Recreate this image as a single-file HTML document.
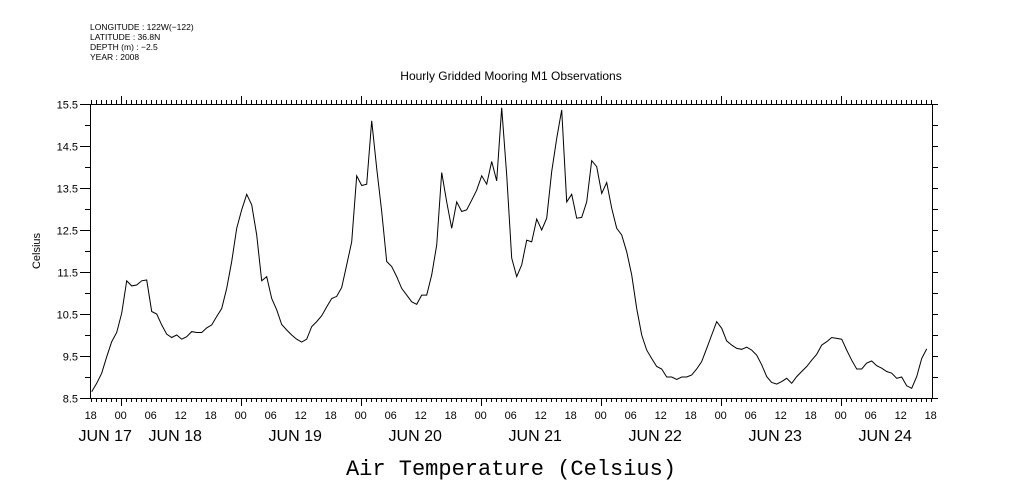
<!DOCTYPE html>
<html><head><meta charset="utf-8"><style>
html,body{margin:0;padding:0;background:#fff;}
svg{display:block;font-family:"Liberation Sans",sans-serif;}
</style></head><body>
<svg id="chart" width="1009" height="504" viewBox="0 0 1009 504">
<g font-size="8.5" fill="#000">
<text x="90" y="30">LONGITUDE : 122W(−122)</text>
<text x="90" y="40">LATITUDE : 36.8N</text>
<text x="90" y="50">DEPTH (m) : −2.5</text>
<text x="90" y="60">YEAR : 2008</text>
</g>
<text x="511" y="80" font-size="12" text-anchor="middle">Hourly Gridded Mooring M1 Observations</text>
<text x="511" y="475" font-size="22" text-anchor="middle" font-family="Liberation Mono, monospace">Air Temperature (Celsius)</text>
<text x="40" y="251" font-size="11" text-anchor="middle" transform="rotate(-90 40 251)">Celsius</text>
<g id="axes" stroke="#000" stroke-width="1" fill="none"></g>
<g id="labels" fill="#000"></g>
<path id="line" fill="none" stroke="#000" stroke-width="1"/>
</svg>
<script>
const temps = [8.65,8.85,9.09,9.48,9.84,10.06,10.52,11.29,11.17,11.19,11.29,11.31,10.56,10.5,10.24,10.02,9.94,10.0,9.9,9.96,10.08,10.06,10.06,10.17,10.24,10.44,10.63,11.11,11.75,12.54,12.98,13.35,13.1,12.38,11.29,11.39,10.87,10.6,10.25,10.12,10.0,9.9,9.83,9.9,10.2,10.32,10.46,10.67,10.87,10.92,11.13,11.67,12.22,13.79,13.56,13.59,15.1,13.97,12.94,
11.75,11.63,11.39,11.11,10.95,10.79,10.73,10.95,10.95,11.43,12.14,13.87,13.17,12.54,13.17,12.94,12.98,13.21,13.45,13.79,13.59,14.13,13.67,15.41,13.81,11.83,11.39,11.67,12.26,12.22,12.76,12.5,12.78,13.89,14.68,15.36,13.17,13.35,12.78,12.8,13.17,14.15,14.01,13.37,13.63,13.02,12.54,12.38,11.98,11.43,10.63,10.0,9.64,9.44,9.25,
9.19,9.0,9.0,8.94,9.0,9.0,9.05,9.19,9.37,9.68,10.0,10.32,10.16,9.86,9.76,9.68,9.66,9.71,9.64,9.52,9.29,9.01,8.87,8.83,8.89,8.97,8.85,9.01,9.13,9.25,9.4,9.54,9.76,9.84,9.94,9.92,9.9,9.64,9.4,9.19,9.19,9.33,9.38,9.27,9.21,9.13,9.09,8.97,9.0,8.79,8.73,9.01,9.44,9.67];
const yTicks = ["8.5","9.5","10.5","11.5","12.5","13.5","14.5","15.5"];
const hourLabels = ["18","00","06","12","18","00","06","12","18","00","06","12","18","00","06","12","18","00","06","12","18","00","06","12","18","00","06","12","18"];
const dayLabels = ["JUN 17","JUN 18","JUN 19","JUN 20","JUN 21","JUN 22","JUN 23","JUN 24"];
const dayLabelHours = [2.9,16.9,40.9,64.9,88.9,112.9,136.9,158.9];

const X0=90.7, PXH=5, YT=104, YB=398, VMIN=8.5, VMAX=15.5;
const L=90, R=933;
const xs = h => X0 + h*PXH;
const ys = v => YB - (v-VMIN)/(VMAX-VMIN)*(YB-YT);
const NS="http://www.w3.org/2000/svg";
const axes=document.getElementById('axes'), labels=document.getElementById('labels');
function ln(x1,y1,x2,y2,name){const e=document.createElementNS(NS,'line');
e.setAttribute('x1',x1);e.setAttribute('y1',y1);e.setAttribute('x2',x2);e.setAttribute('y2',y2);


axes.appendChild(e);}
function tx(x,y,s,size,anchor,name){const e=document.createElementNS(NS,'text');
e.setAttribute('x',x);e.setAttribute('y',y);e.setAttribute('font-size',size);e.setAttribute('text-anchor',anchor);e.textContent=s;


labels.appendChild(e);}
const fr=document.createElementNS(NS,'rect');
fr.setAttribute('x',L+0.5);fr.setAttribute('y',YT+0.5);fr.setAttribute('width',R-L-1);fr.setAttribute('height',YB-YT);


axes.appendChild(fr);
for(let v=VMIN; v<=VMAX+0.001; v+=0.5){const y=Math.round(ys(v))+0.5;
 ln(L-5,y,L,y,'y-tick-left'); ln(R,y,R+5,y,'y-tick-right');}
yTicks.forEach(t=>{const y=Math.round(ys(parseFloat(t)))+0.5; ln(L-10,y,L,y,'y-major-tick');
 tx(L-12,y+4,t,11,'end','y-tick-label');});
for(let h=0; h<=168; h++){const x=Math.round(xs(h))+0.5; const day=((h+18)%24===0);
 ln(x,YT-(day?8:4),x,YT,'x-tick-top'); ln(x,YB,x,YB+(day?8:4),'x-tick-bottom');}
hourLabels.forEach((t,i)=>tx(xs(i*6),419,t,11,'middle','x-hour-label'));
dayLabels.forEach((t,i)=>tx(xs(dayLabelHours[i]),441,t,16,'middle','x-date-label'));
let d='';temps.forEach((v,i)=>{d+=(i?'L':'M')+xs(i+0.2).toFixed(1)+' '+ys(v).toFixed(1);});
document.getElementById('line').setAttribute('d',d);
</script>
</body></html>
